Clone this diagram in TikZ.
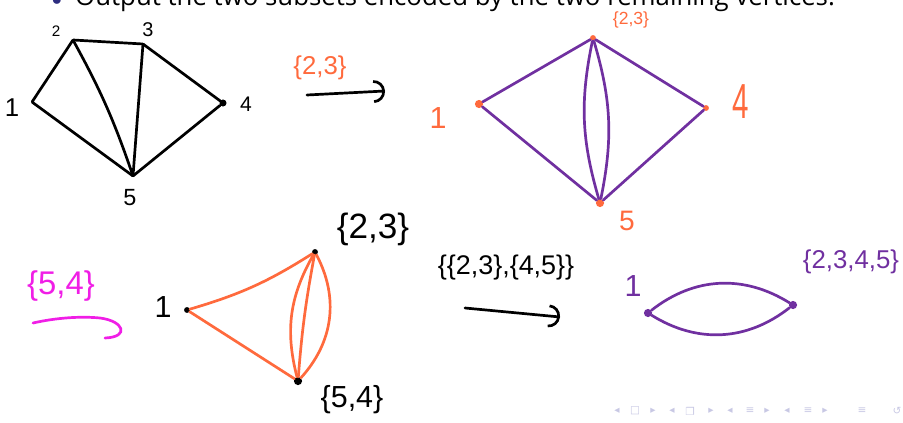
\documentclass[tikz,border=0pt]{standalone}
\usepackage{fontspec}
\setmainfont{Liberation Sans}
\newfontfamily\slidefont{Open Sans}
\newfontfamily\symfont{DejaVu Sans}
\usepackage{xcolor}
\definecolor{InkOrange}{HTML}{FF6A3D}
\definecolor{InkPurple}{HTML}{7030A0}
\definecolor{InkMagenta}{HTML}{F01EE6}
\definecolor{NavGray}{HTML}{C8C8E4}
\definecolor{BulletNavy}{HTML}{2D2D80}
\usetikzlibrary{arrows.meta}

\begin{document}
\begin{tikzpicture}[
  x=0.03cm,y=-0.03cm,
  ink/.style={line width=2.3pt,line cap=round,line join=round},
  pt/.style={circle,inner sep=0pt,minimum size=0pt},
  dot/.style={circle,fill,inner sep=0pt,minimum size=5pt},
  hand/.style={font=\fontsize{#1}{#1}\selectfont,inner sep=0pt},
  hand/.default=22,
  hook/.style={-{Arc Barb[scale=1.6]}},
  nav/.style={font=\symfont\fontsize{9}{9}\selectfont,text=NavGray,inner sep=0pt}
]
\clip (0,0) rectangle (903,422);
\useasboundingbox (0,0) rectangle (903,422);

% slide line, cut at the top
\node[text=BulletNavy,font=\fontsize{16}{16}\selectfont] (bullet) at (57,1) {$\bullet$};
\node[anchor=base west,inner sep=0pt,font=\slidefont\fontsize{22}{22}\selectfont] (title) at (75,6)
  {Output the two subsets encoded by the two remaining vertices.};

% first graph
\node[pt] (a1) at (32,102) {};
\node[pt] (a2) at (73,40) {};
\node[pt] (a3) at (143,44) {};
\node[dot,minimum size=6pt] (a4) at (223,103) {};
\node[pt] (a5) at (133,176) {};
\node[hand] (a1l) at (12,108) {1};
\node[hand=13] (a2l) at (56,31) {2};
\node[hand=17] (a3l) at (148,30) {3};
\node[hand=18] (a4l) at (246,104) {4};
\node[hand=20] (a5l) at (130,198) {5};
\draw[ink] (a1) -- (a2) -- (a3) -- (a4) -- (a5) -- (a1);
\draw[ink] (a2) to[bend left=5] (a5);
\draw[ink] (a3) -- (a5);

% first contraction
\node[hand,text=InkOrange] (c1) at (320,68) {\{2,3\}};
\coordinate (c1s) at (307,95);
\coordinate (c1e) at (385,91);
\draw[ink,hook] (c1s) -- (c1e);

% second graph
\node[dot,fill=InkOrange,minimum size=7pt] (b1) at (479,104) {};
\node[dot,fill=InkOrange] (b23) at (593,38) {};
\node[dot,fill=InkOrange] (b4) at (706,108) {};
\node[dot,fill=InkOrange,minimum size=7pt] (b5) at (600,203) {};
\node[hand=26,text=InkOrange] (b1l) at (438,118) {1};
\node[hand=15,text=InkOrange] (b23l) at (631,20) {\{2,3\}};
\node[text=InkOrange,inner sep=0pt] (b4l) at (741,102) {\scalebox{0.6}[1]{\fontsize{42}{42}\selectfont 4}};
\node[hand=24,text=InkOrange] (b5l) at (627,221) {5};
\begin{scope}[ink,InkPurple]
\draw (b1) -- (b23) -- (b4) -- (b5) -- (b1);
\draw (b23) to[bend left=14] (b5);
\draw (b23) to[bend right=14] (b5);
\end{scope}

% second contraction
\node[hand=28,text=InkMagenta] (c2) at (61,286) {\{5,4\}};
\coordinate (c2s) at (33,323);
\coordinate (c2e) at (105,338);
\draw[ink,InkMagenta] (c2s) .. controls (55,318) and (80,316) .. (100,318)
  .. controls (124,321) and (130,337) .. (c2e);

% third graph
\node[dot,minimum size=5pt] (d1) at (187,310) {};
\node[dot,minimum size=5pt] (d23) at (315,252) {};
\node[dot,minimum size=7pt] (d54) at (298,381) {};
\node[hand=26] (d1l) at (163,307) {1};
\node[hand=30] (d23l) at (373,229) {\{2,3\}};
\node[hand=26] (d54l) at (352,400) {\{5,4\}};
\begin{scope}[ink,InkOrange]
\draw (d1) to[bend right=8] (d23);
\draw (d1) -- (d54);
\draw (d23) to[bend right=22] (d54);
\draw (d23) to[bend right=3] (d54);
\draw (d23) to[bend left=35] (d54);
\end{scope}

% third contraction
\node[hand=23] (c3) at (506,268) {\{\{2,3\},\{4,5\}\}};
\coordinate (c3s) at (465,308);
\coordinate (c3e) at (560,317);
\draw[ink,hook] (c3s) -- (c3e);

% last graph
\node[dot,fill=InkPurple,minimum size=7pt] (e1) at (648,313) {};
\node[dot,fill=InkPurple,minimum size=7pt] (e2) at (793,305) {};
\node[hand=26,text=InkPurple] (e1l) at (633,286) {1};
\node[hand,text=InkPurple] (e2l) at (851,262) {\{2,3,4,5\}};
\draw[ink,InkPurple] (e1) to[bend right=35] (e2);
\draw[ink,InkPurple] (e1) to[bend left=35] (e2);

% navigation symbols
\foreach \x/\g [count=\i] in {617/◂,635/□,653/▸,672/◂,690/❐,711/▸,730/◂,750/≡,767/▸,787/◂,808/≡,825/▸,862/≡,897/↺}
  \node[nav] (nav\i) at (\x,411) {\g};
\end{tikzpicture}
\end{document}
